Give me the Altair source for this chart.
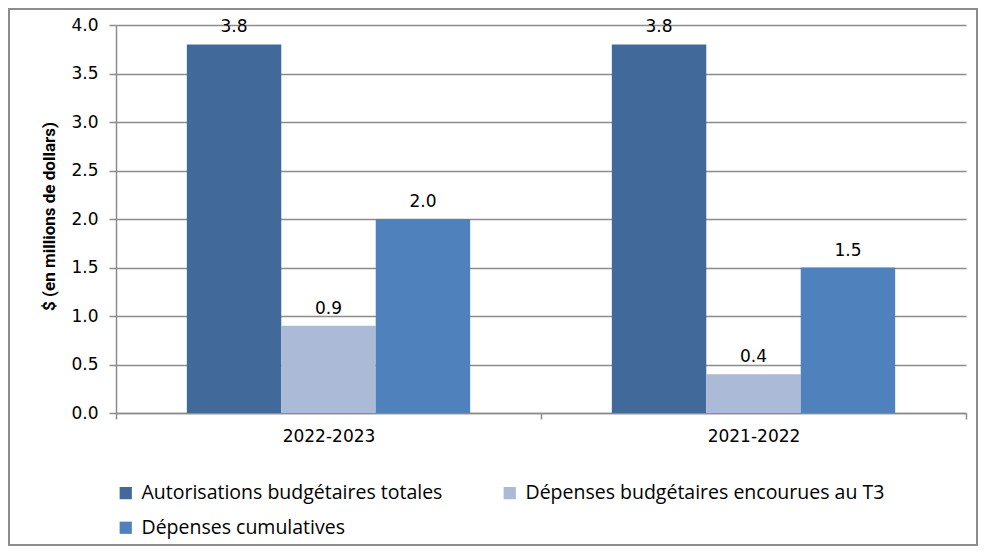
import altair as alt
import pandas as pd

years = ["2022-2023", "2021-2022"]
series = [
    "Autorisations budgétaires totales",
    "Dépenses budgétaires encourues au T3",
    "Dépenses cumulatives",
]
values_2022_2023 = [3.8, 0.9, 2.0]
values_2021_2022 = [3.8, 0.4, 1.5]
colors = ["#416A9B", "#AABAD7", "#4F81BD"]

rows = []
for yr, vals in zip(years, [values_2022_2023, values_2021_2022]):
    for s, v in zip(series, vals):
        rows.append({"year": yr, "series": s, "value": v})
df = pd.DataFrame(rows)

FONT = "DejaVu Sans, Verdana, sans-serif"
LFONT = "Open Sans"

x = alt.X(
    "year:N",
    sort=years,
    scale=alt.Scale(paddingInner=0, paddingOuter=0),
    axis=alt.Axis(
        title=None,
        labelAngle=0,
        tickBand="extent",
        tickSize=6,
        tickColor="#8C8C8C",
        tickWidth=1.5,
        domainColor="#8C8C8C",
        domainWidth=1.5,
        labelFont=FONT,
        labelFontSize=17,
        labelColor="#000000",
        labelPadding=9,
        grid=False,
    ),
)
xoff = alt.XOffset(
    "series:N",
    sort=series,
    scale=alt.Scale(domain=series, paddingInner=0, paddingOuter=0.75),
)
y = alt.Y(
    "value:Q",
    scale=alt.Scale(domain=[0, 4], nice=False, zero=True),
    axis=alt.Axis(
        title="$ (en millions de dollars)",
        values=[0, 0.5, 1, 1.5, 2, 2.5, 3, 3.5, 4],
        format=".1f",
        tickSize=7,
        tickColor="#8C8C8C",
        tickWidth=1.5,
        domainColor="#8C8C8C",
        domainWidth=1.5,
        gridColor="#8C8C8C",
        gridWidth=1.5,
        labelFont=FONT,
        labelFontSize=17,
        labelColor="#000000",
        labelPadding=11,
        titleFont="Roboto",
        titleFontWeight="bold",
        titleFontSize=17,
        titleColor="#000000",
        titleAngle=270,
        titleX=-58,
        titleY=191,
        titleAlign="center",
        titleBaseline="bottom",
    ),
)
color = alt.Color(
    "series:N",
    sort=series,
    scale=alt.Scale(domain=series, range=colors),
    legend=alt.Legend(
        title=None,
        orient="none",
        direction="horizontal",
        legendX=0,
        legendY=458,
        columns=2,
        columnPadding=57,
        rowPadding=14,
        symbolType="square",
        symbolSize=150,
        symbolStrokeWidth=0,
        labelFont=LFONT,
        labelFontSize=19.5,
        labelColor="#000000",
        labelOffset=6,
        labelLimit=400,
    ),
)

bars = alt.Chart(df).mark_bar().encode(x=x, xOffset=xoff, y=y, color=color)
labels = alt.Chart(df).mark_text(
    baseline="alphabetic", dy=-12, font=FONT, fontSize=17, color="#000000"
).encode(x=x, xOffset=xoff, y=y, text=alt.Text("value:Q", format=".1f"))

frame = alt.Chart(pd.DataFrame({"d": [0]})).mark_rect(
    fill=None, stroke="#8C8C8C", strokeWidth=2
).encode(
    x=alt.value(-107), x2=alt.value(861), y=alt.value(-16), y2=alt.value(520)
)

chart = (
    alt.layer(bars, labels, frame)
    .properties(
        width=850,
        height=388,
        autosize=alt.AutoSizeParams(type="none"),
        padding={"left": 108, "top": 17, "right": 12, "bottom": 134},
        background="#FFFFFF",
    )
    .configure_view(stroke=None)
)

chart.save("out.html", embed_options={"renderer": "svg", "actions": False})
